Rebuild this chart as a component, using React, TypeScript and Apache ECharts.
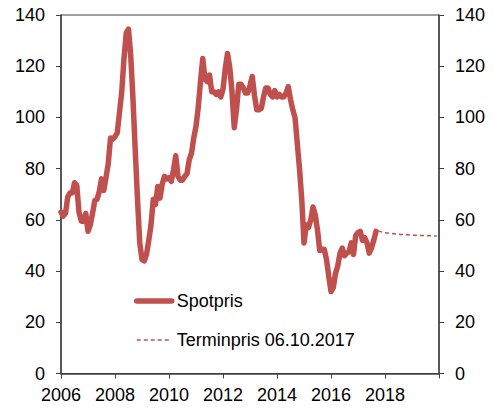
import React, { useEffect, useRef } from "react";
import * as echarts from "echarts";

// Spot price, monthly from 2006-01 (USD per barrel)
const spotStart = "2006-01";
const spot2006 = [63, 61.5, 62.5, 69, 70.5, 70.5, 74.5, 73.5, 63, 59.5, 59.5, 62.5];
const spot2007 = [55.5, 58, 62.5, 67.5, 68, 71, 76, 71.5, 76.5, 82, 92, 91.5];
const spot2008 = [92.5, 94, 102, 110, 123, 133, 134.5, 124, 107, 87, 68, 51];
const spot2009 = [44.5, 44, 46.5, 52, 58, 68, 66, 73, 68.5, 74, 77, 76];
const spot2010 = [76.5, 75, 79.5, 85, 77, 75.5, 75.5, 77, 78, 83.5, 86, 92];
const spot2011 = [96.5, 104, 114, 123, 115, 114, 116.5, 110, 110, 109, 110, 108];
const spot2012 = [111, 119, 125, 119.5, 110, 96, 103, 113, 113, 111.5, 109.5, 109.5];
const spot2013 = [112.5, 116, 108.5, 103, 103, 103.5, 108, 111.5, 111.5, 109, 108, 110.5];
const spot2014 = [108, 109, 108, 108, 109.5, 112, 107, 103, 100, 90, 80, 68];
const spot2015 = [51, 58, 57, 60, 65, 62, 56, 48, 48.5, 48.5, 44.5, 38];
const spot2016 = [32, 33.5, 39, 42, 47, 49, 46, 47, 47.5, 51, 46.5, 54];
const spot2017 = [55, 55.5, 52, 53, 51, 47, 49, 52, 55.5];

// Forward curve 06.10.2017, monthly from 2017-10
const forwardStart = "2017-10";
const forwardValues = [
  55.6, 55.4, 55.2, 55.0, 54.9, 54.8, 54.7, 54.6, 54.5, 54.4, 54.3, 54.25, 54.2,
  54.15, 54.1, 54.05, 54.0, 53.95, 53.9, 53.9, 53.85, 53.8, 53.8, 53.75, 53.75,
  53.7, 53.7,
];

const seriesNames = ["Spotpris", "Terminpris 06.10.2017"];
const yTicks = { min: 0, max: 140, interval: 20 };
const xTicks = { min: 2006, max: 2020, interval: 2 };

const spotValues = [
  ...spot2006, ...spot2007, ...spot2008, ...spot2009, ...spot2010, ...spot2011,
  ...spot2012, ...spot2013, ...spot2014, ...spot2015, ...spot2016, ...spot2017,
];

function toPairs(start: string, values: number[]): [number, number][] {
  const [y, m] = start.split("-").map(Number);
  return values.map((v, i) => [y + (m - 1 + i) / 12, v]);
}

const FONT = "'Liberation Sans', Arial, sans-serif";
const RED = "#C0504D";
const AXIS = "#404040";
const SPOT_LINE = { color: RED, width: 5.5, join: "round" as const, cap: "round" as const };
const FWD_LINE = { color: RED, width: 1.5, type: [4, 3] };

export default function App() {
  const ref = useRef<HTMLDivElement>(null);
  useEffect(() => {
    if (!ref.current) return;
    const chart = echarts.init(ref.current, undefined, { renderer: "svg" });
    const yAxisBase = {
      type: "value" as const,
      min: yTicks.min,
      max: yTicks.max,
      interval: yTicks.interval,
      splitLine: { show: false },
      axisLine: { show: true, lineStyle: { color: AXIS, width: 1.5 } },
      axisTick: { show: true, inside: false, length: 5, lineStyle: { color: AXIS, width: 1 } },
      axisLabel: { color: "#000", fontSize: 18, fontFamily: FONT, margin: 16 },
    };
    chart.setOption({
      animation: false,
      textStyle: { fontFamily: FONT },
      grid: {
        left: 61,
        right: 54,
        top: 15,
        bottom: 36.5,
        show: true,
        borderColor: AXIS,
        borderWidth: 1,
        containLabel: false,
      },
      xAxis: {
        type: "value",
        min: xTicks.min,
        max: xTicks.max,
        interval: xTicks.interval,
        splitLine: { show: false },
        axisLine: { show: true, onZero: false, lineStyle: { color: AXIS, width: 1.5 } },
        axisTick: { show: true, inside: false, length: 5, lineStyle: { color: AXIS, width: 1 } },
        axisLabel: {
          color: "#000",
          fontSize: 18,
          fontFamily: FONT,
          margin: 12,
          formatter: (v: number) => (v >= xTicks.max ? "" : String(v)),
        },
      },
      yAxis: [
        { ...yAxisBase, position: "left" },
        { ...yAxisBase, position: "right" },
      ],
      legend: {
        orient: "vertical",
        left: 134,
        top: 292,
        padding: 0,
        itemWidth: 35,
        itemHeight: 14,
        itemGap: 21,
        itemStyle: { opacity: 0 },
        textStyle: { fontSize: 18, fontFamily: FONT, color: "#000" },
        data: [
          { name: seriesNames[0], lineStyle: { width: 5.5, color: RED, cap: "round" } },
          { name: seriesNames[1], lineStyle: { width: 1.5, color: RED, type: [4, 3] } },
        ],
      },
      series: [
        {
          name: seriesNames[0],
          type: "line",
          data: toPairs(spotStart, spotValues),
          symbol: "none",
          lineStyle: SPOT_LINE,
          itemStyle: { color: RED },
        },
        {
          name: seriesNames[1],
          type: "line",
          data: toPairs(forwardStart, forwardValues),
          symbol: "none",
          lineStyle: FWD_LINE,
          itemStyle: { color: RED },
        },
      ],
    });
    return () => chart.dispose();
  }, []);
  return (
    <div
      ref={ref}
      style={{ position: "fixed", left: 0, top: 0, width: 493, height: 410, background: "#fff" }}
    />
  );
}
